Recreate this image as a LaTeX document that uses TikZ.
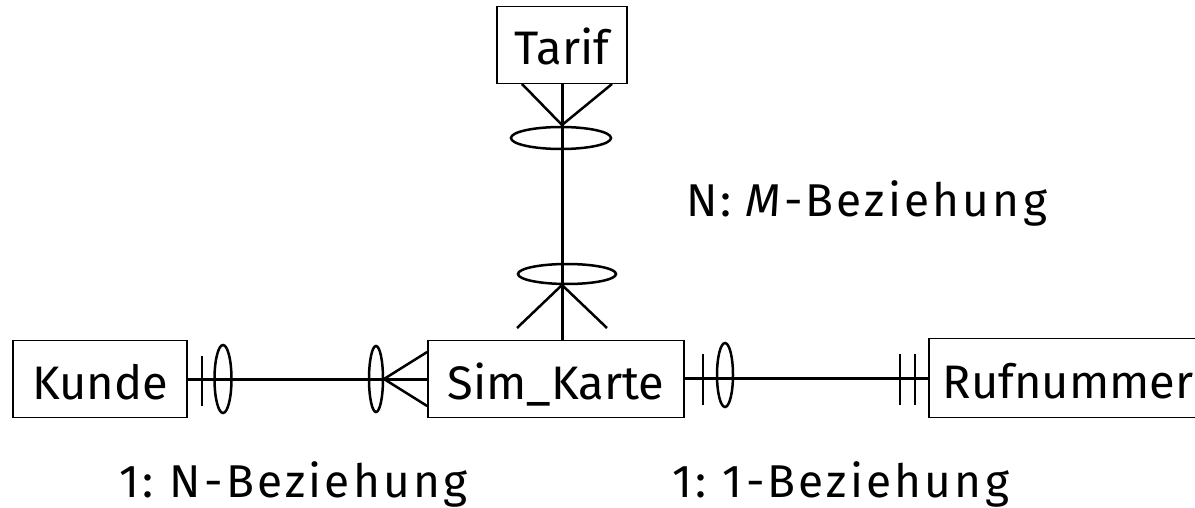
\documentclass[tikz,border=0pt]{standalone}
\usepackage{fontspec}
\setmainfont{Fira Sans}
\newfontfamily\spacedfont{Fira Sans}[LetterSpace=7]
\usetikzlibrary{calc}
\begin{document}
\begin{tikzpicture}[x=1pt,y=-1pt,
  entity/.style={draw,line width=1.7pt,minimum height=77pt,inner sep=0pt,
    text height=40pt,text depth=0pt,font=\fontsize{47}{52}\selectfont},
  conn/.style={line width=3pt},
  cardmark/.style={line width=2.5pt},
  lbl/.style={font=\spacedfont\fontsize{46}{52}\selectfont,inner sep=0pt,anchor=base west}]
\useasboundingbox (0,0) rectangle (1195,508);

% entities
\node[entity,minimum width=130pt] (tarif) at (562,45) {Tarif};
\node[entity,minimum width=256pt] (sim) at (556,379) {Sim\_Karte};
\node[entity,minimum width=174pt] (kunde) at (100,379) {Kunde};
\node[entity,minimum width=278pt,minimum height=79pt] (ruf) at (1068,378) {Rufnummer};

% relationship lines
\draw[conn] (kunde.east) -- (sim.west);
\draw[conn] (sim.east |- 0,378) -- (ruf.west |- 0,378);
\draw[conn] (tarif.south) -- (tarif.south |- sim.north);

% Kunde side: exactly one
\draw[cardmark] (202,356) -- (202,406);
\draw[cardmark] (223,379) ellipse (8.5 and 34);
% Sim_Karte side toward Kunde: zero or many
\draw[cardmark] (376,379) ellipse (7 and 33);
\draw[cardmark] (sim.west |- 0,352) -- (384,379) -- (sim.west |- 0,406);

% Sim_Karte side toward Rufnummer: zero or one
\draw[cardmark] (703,354) -- (703,405);
\draw[cardmark] (725,375) ellipse (8 and 32);
% Rufnummer side: exactly one
\draw[cardmark] (900,354) -- (900,405);
\draw[cardmark] (915,354) -- (915,405);

% Tarif side: zero or many
\draw[cardmark] (522,84) -- (562,125) -- (612,84);
\draw[cardmark] (561,138) ellipse (50 and 11);
% Sim_Karte side toward Tarif: zero or many
\draw[cardmark] (567,274) ellipse (49 and 10);
\draw[cardmark] (517,328) -- (562,285) -- (607,328);

% cardinality labels
\node[lbl] (nm) at (686,217) {N:\hspace{-2pt} \textit{M}-Beziehung};
\node[lbl] (onen) at (119,497) {1:\hspace{-4pt} N-Beziehung};
\node[lbl] (oneone) at (672,497) {1:\hspace{-4pt} 1-Beziehung};
\end{tikzpicture}
\end{document}
